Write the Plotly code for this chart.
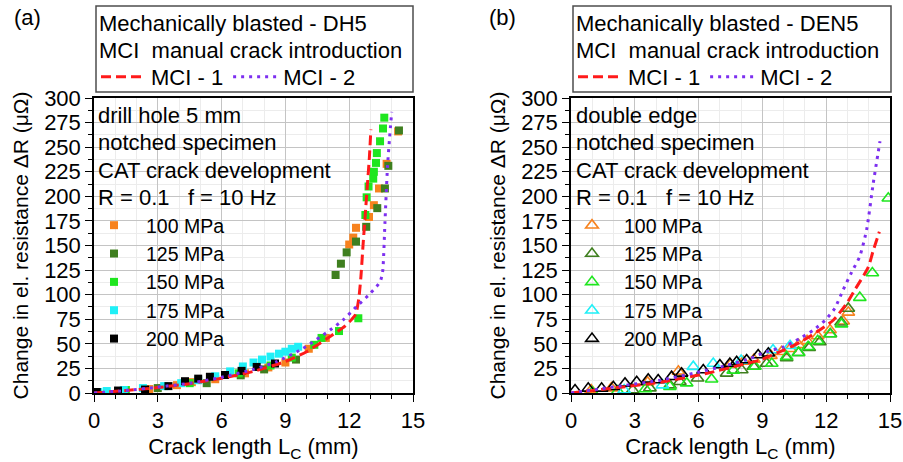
import plotly.graph_objects as go

W, H = 903, 462
FONT = "Liberation Sans, Arial, sans-serif"

# ---------------- Panel (a): drill hole DH5 ----------------
a_100_x = [2.6, 3.9, 4.6, 5.7, 7.1, 8.2, 9.0, 10.1, 10.9, 12.0, 12.19, 12.32, 12.93, 13.16, 13.4, 13.76, 14.3]
a_100_y = [4, 8, 11, 14, 20, 26, 31, 45, 56, 151, 158, 168, 179, 191, 208, 233, 266]
a_125_x = [3.0, 5.3, 6.9, 8.0, 9.5, 11.36, 11.61, 11.88, 12.32, 12.8, 13.32, 13.68, 13.84, 14.34]
a_125_y = [5, 10, 18, 24, 34, 120, 131.5, 143, 154, 169, 188, 208, 231, 267]
a_150_x = [1.5, 4.5, 6.8, 8.3, 9.3, 10.36, 10.7, 11.52, 12.43, 12.76, 12.82, 12.91, 13.13, 13.16, 13.26, 13.3, 13.45, 13.59, 13.65]
a_150_y = [3, 10, 20, 28, 36, 49, 56, 63, 76, 181, 199, 210, 218, 225, 234, 244, 256, 269, 280]
a_175_x = [0.2, 0.6, 1.4, 2.3, 3.3, 4.1, 4.9, 5.7, 6.4, 7.0, 7.5, 7.9, 8.3, 8.7, 9.0, 9.3, 9.6]
a_175_y = [1, 2, 3, 5, 7, 10, 13, 17, 22, 27, 31, 34, 37, 40, 42, 45, 47]
a_200_x = [0.13, 1.13, 2.4, 3.5, 4.28, 4.9, 5.45, 6.16, 6.94, 7.65, 8.51]
a_200_y = [1, 2.5, 3.5, 7, 12, 14.6, 16.5, 18.3, 22.5, 26.5, 30]
a_mci1_x = [0, 1.5, 3, 4.5, 6, 7.5, 9, 10, 11, 11.8, 12.3, 12.45, 12.55, 12.65, 12.75, 12.85, 12.95, 13.02]
a_mci1_y = [0, 2.5, 5.5, 9.5, 15, 22, 32, 42, 56, 68, 80, 96, 118, 150, 180, 210, 240, 268]
a_mci2_x = [0, 1.5, 3, 4.5, 6, 7.5, 8.6, 9.8, 11.1, 11.7, 12.35, 12.98, 13.45, 13.57, 13.68, 13.8, 13.9, 14.0]
a_mci2_y = [0, 2.5, 6, 10, 16, 24, 32, 45, 64, 74, 88, 101, 113, 123, 173, 230, 260, 286]

# ---------------- Panel (b): double edge DEN5 ----------------
b_100_x = [0.95, 1.9, 3.6, 5.05, 7.5, 8.1, 8.6, 9.4, 9.9, 10.3, 10.7, 11.1, 11.6, 12.18, 12.8, 13.04]
b_100_y = [3, 5, 11, 22, 29, 32, 34, 38, 42, 45, 49, 53, 58, 64, 73, 82]
b_125_x = [2.9, 3.71, 4.65, 5.12, 5.95, 7.32, 8.03, 8.58, 9.2, 10.14, 10.7, 11.2, 11.7, 12.2, 12.7, 13.04]
b_125_y = [3, 5, 8, 11.5, 15, 20, 23.4, 27, 30, 35.6, 41, 46, 52, 60, 72, 86]
b_150_x = [1.0, 2.2, 3.5, 4.65, 5.44, 6.61, 7.63, 8.65, 9.44, 10.14, 10.7, 11.15, 11.6, 12.18, 12.72, 13.58, 14.17, 14.92]
b_150_y = [1, 2, 4, 6.5, 10, 14, 23, 27, 30, 37, 41, 47, 53, 60, 70, 97, 122, 198]
b_175_x = [2.5, 4.3, 5.75, 6.69, 8.0, 9.5, 10.3]
b_175_y = [3, 8, 26.8, 30, 33, 43.7, 48]
b_200_x = [0.19, 0.81, 1.44, 1.99, 2.54, 3.09, 3.63, 4.1, 4.73, 5.2, 6.22, 7.0, 7.47, 7.79, 8.26, 8.8, 9.28]
b_200_y = [3, 4.7, 4.7, 6.4, 9.8, 11.5, 13.9, 13.2, 16.6, 20, 23.4, 28.5, 30, 31.8, 33.6, 38.7, 40.4]
b_mci1_x = [0, 2.0, 4.2, 6.4, 7.95, 8.9, 10.0, 10.8, 11.55, 12.33, 12.96, 13.35, 13.98, 14.2, 14.5]
b_mci1_y = [0, 5, 11, 20, 28.5, 33.6, 43.7, 52, 62, 74, 91, 105, 128, 144, 164]
b_mci2_x = [0, 1.3, 2.6, 4.2, 5.75, 7.3, 8.4, 9.2, 10.0, 10.8, 11.4, 11.95, 12.4, 12.8, 13.2, 13.58, 13.9, 14.21, 14.53]
b_mci2_y = [0, 4, 8, 13, 20, 28, 35, 42, 47, 56, 64, 74, 86, 105, 123, 139, 166, 213, 256]

series_names = ["100 MPa", "125 MPa", "150 MPa", "175 MPa", "200 MPa"]
series_colors = ["#f7821e", "#3f7f1f", "#1fe61f", "#1ff0f7", "#000000"]
line_names = ["MCI - 1", "MCI - 2"]
line_colors = ["#ff1a1a", "#7d2ff0"]

x_ticks = [0, 3, 6, 9, 12, 15]
y_ticks = list(range(0, 301, 25))

box_a_lines = ["Mechanically blasted - DH5", "MCI\u00a0 manual crack introduction"]
box_b_lines = ["Mechanically blasted - DEN5", "MCI\u00a0 manual crack introduction"]
info_a = ["drill hole 5 mm", "notched specimen", "CAT crack development", "R = 0.1\u00a0\u00a0 f = 10 Hz"]
info_b = ["double edge", "notched specimen", "CAT crack development", "R = 0.1\u00a0\u00a0 f = 10 Hz"]

fig = go.Figure()

def px(v):
    return v / W

def py(v):
    return 1 - v / H

panels = [
    dict(xa="x", ya="y", data=[(a_100_x, a_100_y), (a_125_x, a_125_y), (a_150_x, a_150_y), (a_175_x, a_175_y), (a_200_x, a_200_y)],
         lines=[(a_mci1_x, a_mci1_y), (a_mci2_x, a_mci2_y)], symbol="square", leg_m="legend2", leg_l="legend"),
    dict(xa="x2", ya="y2", data=[(b_100_x, b_100_y), (b_125_x, b_125_y), (b_150_x, b_150_y), (b_175_x, b_175_y), (b_200_x, b_200_y)],
         lines=[(b_mci1_x, b_mci1_y), (b_mci2_x, b_mci2_y)], symbol="triangle-up-open", leg_m="legend4", leg_l="legend3"),
]

for p in panels:
    for (xs, ys), name, col in zip(p["data"], series_names, series_colors):
        if p["symbol"] == "square":
            marker = dict(symbol="square", size=8, color=col, line=dict(width=0))
        else:
            marker = dict(symbol="triangle-up-open", size=11, color=col, line=dict(width=1.6, color=col))
        fig.add_trace(go.Scatter(x=xs, y=ys, mode="markers", name=name, marker=marker,
                                 xaxis=p["xa"], yaxis=p["ya"], legend=p["leg_m"]))
    for (xs, ys), name, col, dash in zip(p["lines"], line_names, line_colors, ["10px,5px", "3px,5px"]):
        fig.add_trace(go.Scatter(x=xs, y=ys, mode="lines", name=name,
                                 line=dict(color=col, width=3, dash=dash, shape="spline", smoothing=0.6),
                                 xaxis=p["xa"], yaxis=p["ya"], legend=p["leg_l"]))

axis_common = dict(
    range=[0, 15], tickvals=x_ticks, ticks="outside", ticklen=7, tickwidth=1.3, tickcolor="black",
    showline=True, linecolor="black", linewidth=1.5, mirror=True, automargin=False,
    showgrid=True, gridcolor="#c4c4c4", gridwidth=1, zeroline=False,
    minor=dict(dtick=1, ticks="outside", ticklen=4, tickcolor="black", showgrid=True, gridcolor="#ececec"),
    tickfont=dict(size=22, color="black", family=FONT),
    title=dict(text="Crack length L<sub>C</sub> (mm)", font=dict(size=22, color="black", family=FONT), standoff=12),
)
yaxis_common = dict(
    range=[0, 300], tickvals=y_ticks, ticks="outside", ticklen=7, tickwidth=1.3, tickcolor="black",
    showline=True, linecolor="black", linewidth=1.5, mirror=True, automargin=False,
    showgrid=True, gridcolor="#c4c4c4", gridwidth=1, zeroline=False,
    minor=dict(dtick=12.5, ticks="outside", ticklen=4, tickcolor="black", showgrid=True, gridcolor="#ececec"),
    tickfont=dict(size=22, color="black", family=FONT),
    title=dict(text="Change in el. resistance \u0394R (\u03bc\u03a9)", font=dict(size=21, color="black", family=FONT), standoff=10),
)

fig.update_layout(
    width=W, height=H, autosize=False,
    margin=dict(l=0, r=0, t=0, b=0, autoexpand=False),
    paper_bgcolor="white", plot_bgcolor="white",
    font=dict(family=FONT, color="black"),
    xaxis=dict(domain=[px(94), px(413)], anchor="y", **axis_common),
    yaxis=dict(domain=[py(393), py(98)], anchor="x", **yaxis_common),
    xaxis2=dict(domain=[px(571), px(890)], anchor="y2", **axis_common),
    yaxis2=dict(domain=[py(393), py(98)], anchor="x2", **yaxis_common),
)

leg_common_m = dict(orientation="v", bgcolor="rgba(0,0,0,0)", borderwidth=0, itemwidth=54,
                    font=dict(size=19.5, color="black", family=FONT), xanchor="left", yanchor="top",
                    itemclick=False, itemdoubleclick=False)
leg_common_l = dict(orientation="h", bgcolor="rgba(0,0,0,0)", borderwidth=0, itemwidth=45,
                    font=dict(size=22, color="black", family=FONT), xanchor="left", yanchor="middle",
                    itemclick=False, itemdoubleclick=False)
fig.update_layout(
    legend=dict(x=px(96), y=py(77), **leg_common_l),
    legend3=dict(x=px(573), y=py(77), **leg_common_l),
    legend2=dict(x=px(82), y=py(206), **leg_common_m),
    legend4=dict(x=px(560), y=py(206), **leg_common_m),
)

annotations = []
shapes = []
for x0, x1, lines, tag, tagx, info, infox in [
    (96, 413, box_a_lines, "(a)", 12, info_a, 99),
    (573, 891, box_b_lines, "(b)", 487, info_b, 577),
]:
    shapes.append(dict(type="rect", xref="paper", yref="paper", x0=px(x0), x1=px(x1), y0=py(92), y1=py(6),
                       line=dict(color="#4d4d4d", width=1.5), fillcolor="rgba(0,0,0,0)", layer="above"))
    for i, t in enumerate(lines):
        annotations.append(dict(text=t, xref="paper", yref="paper", x=px(x0 + 1), y=py(23 + 27 * i),
                                xanchor="left", yanchor="middle", showarrow=False,
                                font=dict(size=22, color="black", family=FONT)))
    annotations.append(dict(text=tag, xref="paper", yref="paper", x=px(tagx), y=py(17),
                            xanchor="left", yanchor="middle", showarrow=False,
                            font=dict(size=22, color="black", family=FONT)))
    for i, t in enumerate(info):
        annotations.append(dict(text=t, xref="paper", yref="paper", x=px(infox - 3), y=py(115 + 27.6 * i),
                                xanchor="left", yanchor="middle", showarrow=False,
                                font=dict(size=22, color="black", family=FONT)))

fig.update_layout(annotations=annotations, shapes=shapes)

fig.write_html("out.html")
